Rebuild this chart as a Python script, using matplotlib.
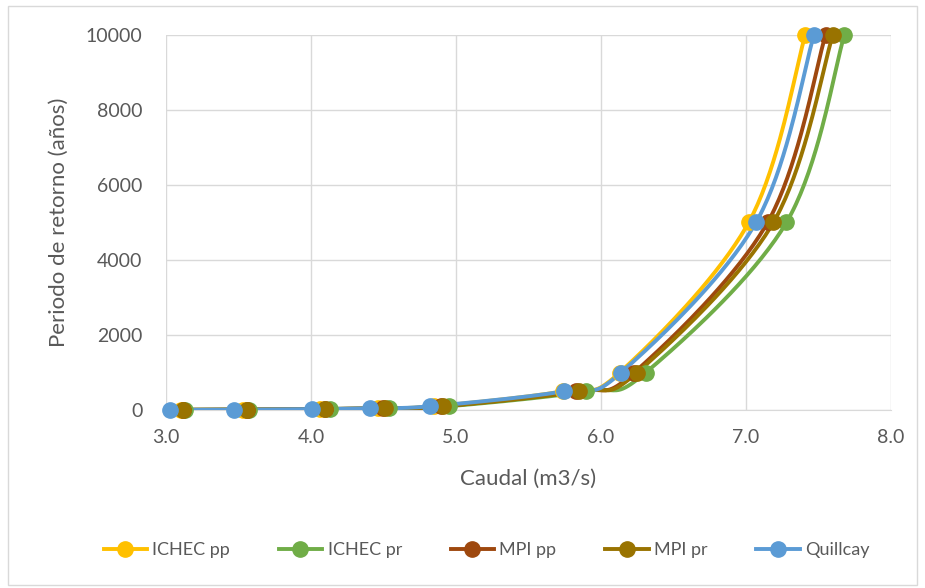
import numpy as np
import matplotlib
matplotlib.use("Agg")
import matplotlib.pyplot as plt
from matplotlib.patches import Rectangle
from matplotlib.lines import Line2D

# Return periods (years)
periodo = [5, 10, 25, 50, 100, 500, 1000, 5000, 10000]

# Flow (m3/s) for each series
ichec_pp = [3.10, 3.53, 4.06, 4.46, 4.85, 5.74, 6.13, 7.02, 7.41]
ichec_pr = [3.13, 3.57, 4.13, 4.54, 4.95, 5.90, 6.31, 7.28, 7.68]
mpi_pp = [3.12, 3.56, 4.10, 4.50, 4.90, 5.83, 6.23, 7.15, 7.55]
mpi_pr = [3.12, 3.56, 4.10, 4.51, 4.91, 5.85, 6.25, 7.19, 7.60]
quillcay = [3.03, 3.47, 4.01, 4.41, 4.82, 5.745, 6.14, 7.07, 7.47]

series_names = ["ICHEC pp", "ICHEC pr", "MPI pp", "MPI pr", "Quillcay"]
series_data = [ichec_pp, ichec_pr, mpi_pp, mpi_pr, quillcay]
colors = ["#FFC000", "#70AD47", "#9E480E", "#997300", "#5B9BD5"]

x_ticks = [3.0, 4.0, 5.0, 6.0, 7.0, 8.0]
y_ticks = [0, 2000, 4000, 6000, 8000, 10000]

plt.rcParams['font.family'] = ['Lato', 'DejaVu Sans']
txt = "#595959"

fig = plt.figure(figsize=(9.25, 5.88), dpi=100)
ax = fig.add_axes([0.1795, 0.3027, 0.7835, 0.6378])
ax.set_xlim(3.0, 8.0)
ax.set_ylim(0, 10000)

# scale factors for smoothing in screen-like space
sx, sy = 725 / 5.0, 375 / 10000.0


def smooth(xs, ys, n=40):
    P = np.column_stack([np.array(xs) * sx, np.array(ys) * sy])
    out = []
    for i in range(len(P) - 1):
        p0 = P[i - 1] if i > 0 else P[i]
        p1 = P[i]
        p2 = P[i + 1]
        p3 = P[i + 2] if i + 2 < len(P) else P[i + 1]
        c1 = p1 + (p2 - p0) / 6.0
        c2 = p2 - (p3 - p1) / 6.0
        t = np.linspace(0, 1, n)[:, None]
        seg = ((1 - t) ** 3) * p1 + 3 * ((1 - t) ** 2) * t * c1 + 3 * (1 - t) * t ** 2 * c2 + t ** 3 * p2
        out.append(seg if i == 0 else seg[1:])
    out = np.vstack(out)
    return out[:, 0] / sx, out[:, 1] / sy


for name, xs, c in zip(series_names, series_data, colors):
    cx, cy = smooth(xs, periodo)
    ax.plot(cx, cy, color=c, lw=2.8, solid_capstyle='round', zorder=3)
    ax.plot(xs, periodo, 'o', color=c, ms=11, zorder=4, clip_on=False)

ax.set_xticks(x_ticks)
ax.set_xticklabels([f"{v:.1f}" for v in x_ticks])
ax.set_yticks(y_ticks)
ax.set_yticklabels([str(v) for v in y_ticks])
ax.grid(True, color="#D9D9D9", lw=1.0)
ax.set_axisbelow(True)
for s in ["top", "right", "left"]:
    ax.spines[s].set_visible(False)
ax.spines["bottom"].set_color("#D9D9D9")
ax.tick_params(axis='y', length=0, labelsize=14, colors=txt, pad=17)
ax.tick_params(axis='x', length=0, labelsize=14, colors=txt, pad=14)
ax.set_xlabel("Caudal (m3/s)", fontsize=16, color=txt, labelpad=16)
ax.set_ylabel("Periodo de retorno (años)", fontsize=16, color=txt, labelpad=12)

handles = [Line2D([0], [0], color=c, lw=2.8, marker='o', ms=11) for c in colors]
fig.legend(handles, series_names, loc='center', bbox_to_anchor=(0.526, 0.064), ncol=5,
           frameon=False, fontsize=13, labelcolor=txt, handlelength=2.4, columnspacing=2.7,
           handletextpad=0.3)

fig.patches.append(Rectangle((8 / 925, 0.005), 1 - 16 / 925, 1 - 6 / 588 - 0.005,
                             transform=fig.transFigure, fill=False, edgecolor="#D9D9D9", lw=1.0))

fig.savefig("out.png", dpi=100)
